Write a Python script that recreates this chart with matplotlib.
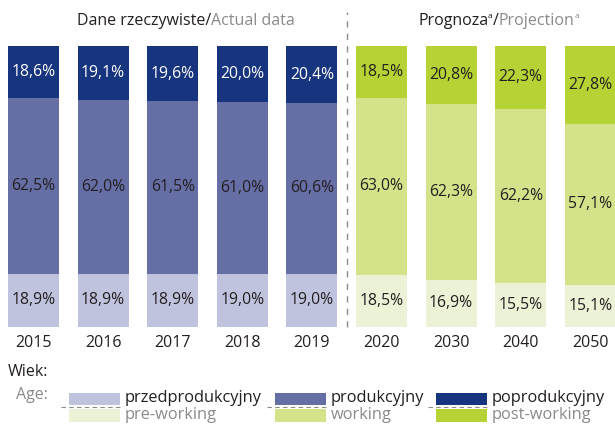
import matplotlib
matplotlib.use("Agg")
import matplotlib.pyplot as plt
from matplotlib.patches import Rectangle
import numpy as np

plt.rcParams['font.family'] = ['Open Sans', 'DejaVu Sans']

# dane
years = ['2015', '2016', '2017', '2018', '2019', '2020', '2030', '2040', '2050']
pre = [18.9, 18.9, 18.9, 19.0, 19.0, 18.5, 16.9, 15.5, 15.1]
work = [62.5, 62.0, 61.5, 61.0, 60.6, 63.0, 62.3, 62.2, 57.1]
post = [18.6, 19.1, 19.6, 20.0, 20.4, 18.5, 20.8, 22.3, 27.8]
n_actual = 5

# kolory: rzeczywiste (niebieskie) i prognoza (zielone)
blue = ['#bfc3de', '#666ea6', '#17347f']
green = ['#ebf2d5', '#d4e38a', '#b5d334']
dark = '#231f20'
grey = '#8a8a8a'

W, H = 615, 424
fig = plt.figure(figsize=(W / 100, H / 100), dpi=100)

# os wykresu: slupki od 46 px do 327 px od gory
ax = fig.add_axes([0, (H - 327) / H, 1, 281 / H])
pitch = 69.6
x = np.arange(len(years))
ax.set_xlim(-33.5 / pitch, (W - 33.5) / pitch)
ax.set_ylim(0, 100)
bw = 51 / pitch

for i in range(len(years)):
    cols = blue if i < n_actual else green
    bottom = 0
    for j, val in enumerate([pre[i], work[i], post[i]]):
        ax.bar(x[i], val, bw, bottom=bottom, color=cols[j], linewidth=0)
        tc = 'white' if (i < n_actual and j == 2) else dark
        ax.text(x[i], bottom + val / 2, f'{val:.1f}%'.replace('.', ','),
                ha='center', va='center', fontsize=11.3, color=tc)
        bottom += val

ax.set_xticks(x, years)
ax.tick_params(axis='x', length=0, pad=6, labelsize=11.5, colors=dark)
ax.set_yticks([])
for s in ax.spines.values():
    s.set_visible(False)

# linia przerywana miedzy danymi a prognoza
ax.plot([4.5, 4.5], [0, 112], color='#8c8c8c', lw=1, dashes=(4.5, 4.5),
        clip_on=False)

# nakladka w pikselach na tytuly i legende
ov = fig.add_axes([0, 0, 1, 1], facecolor='none')
ov.set_xlim(0, W)
ov.set_ylim(H, 0)
ov.axis('off')

renderer = fig.canvas.get_renderer()


def line_of_text(x0, y0, parts):
    # kawalki tekstu jeden po drugim: (tekst, kolor, rozmiar, przesuniecie w gore)
    for txt, col, size, dy in parts:
        t = ov.text(x0, y0 - dy, txt, ha='left', va='baseline', fontsize=size, color=col)
        bb = t.get_window_extent(renderer)
        x0 += bb.width


line_of_text(77, 25, [('Dane rzeczywiste/', dark, 11.5, 0), ('Actual data', grey, 11.5, 0)])
line_of_text(418, 25, [('Prognoza', dark, 11.5, 0), ('a', dark, 6, 7), ('/', dark, 11.5, 0),
                       ('Projection', grey, 11.5, 0), ('a', grey, 6, 7)])

ov.text(8, 372, 'Wiek:', ha='left', va='center', fontsize=11.5, color=dark)
ov.text(48, 395, 'Age:', ha='right', va='center', fontsize=11.5, color=grey)

names_pl = ['przedprodukcyjny', 'produkcyjny', 'poprodukcyjny']
names_en = ['pre-working', 'working', 'post-working']
leg_x = [69, 275, 436]
for k in range(3):
    lx = leg_x[k]
    ov.add_patch(Rectangle((lx, 393), 51, 12, color=blue[k], lw=0))
    ov.add_patch(Rectangle((lx, 409), 51, 13, color=green[k], lw=0))
    ov.plot([lx - 8, lx + 51], [407, 407], color='#8c8c8c', lw=0.8, dashes=(4, 3))
    ov.text(lx + 56, 398, names_pl[k], ha='left', va='center', fontsize=11.8, color=dark)
    ov.text(lx + 56, 415, names_en[k], ha='left', va='center', fontsize=11.8, color=grey)

fig.savefig('out.png', dpi=100)
